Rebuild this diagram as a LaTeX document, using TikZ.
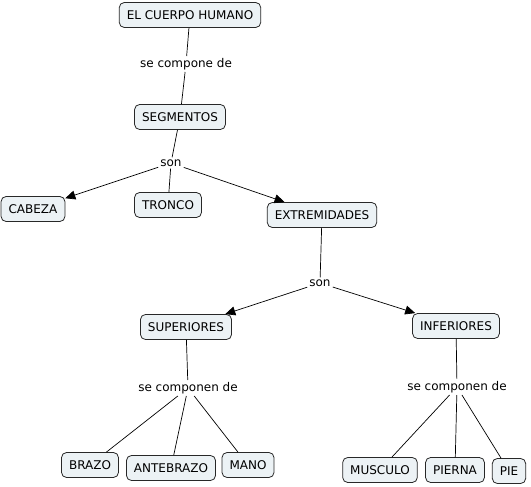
\documentclass[tikz,border=0pt]{standalone}
\usepackage{fontspec}
\setmainfont{DejaVu Sans}
\usetikzlibrary{arrows.meta}
\definecolor{cfill}{RGB}{236,242,245}
\definecolor{cline}{RGB}{40,40,40}
\tikzset{
  concept/.style={draw=cline, fill=cfill, rounded corners=5pt, line width=0.8pt,
    inner xsep=7.5pt, minimum height=25pt, font=\fontsize{12}{14}\selectfont},
  link/.style={inner sep=2pt, font=\fontsize{12}{14}\selectfont},
  conn/.style={draw=black, line width=0.7pt},
  arr/.style={conn, -{Triangle[length=10pt,width=9pt]}}
}
\begin{document}
\begin{tikzpicture}[x=1pt,y=-1pt]
\useasboundingbox (0,0) rectangle (531,487);
\node[concept] (cuerpo) at (190,15) {EL CUERPO HUMANO};
\node[link] (compone) at (186,64) {se compone de};
\node[concept] (segm) at (180,117) {SEGMENTOS};
\node[link] (son1) at (171,163) {son};
\node[concept] (cabeza) at (33,209) {CABEZA};
\node[concept] (tronco) at (168,205) {TRONCO};
\node[concept] (extr) at (322,215) {EXTREMIDADES};
\node[link] (son2) at (320,283) {son};
\node[concept] (sup) at (186,327) {SUPERIORES};
\node[concept] (inf) at (456,326) {INFERIORES};
\node[link] (comp1) at (188,388) {se componen de};
\node[link] (comp2) at (457,387) {se componen de};
\node[concept] (brazo) at (90,465) {BRAZO};
\node[concept] (ante) at (171,468) {ANTEBRAZO};
\node[concept] (mano) at (248,465) {MANO};
\node[concept] (musc) at (380,470) {MUSCULO};
\node[concept] (pierna) at (455,470) {PIERNA};
\node[concept] (pie) at (509,471) {PIE};

\draw[conn] (cuerpo) -- (compone);
\draw[conn] (compone) -- (segm);
\draw[conn] (segm) -- (son1);
\draw[arr] (son1) -- (cabeza);
\draw[conn] (son1) -- (tronco);
\draw[arr] (son1) -- (extr);
\draw[conn] (extr) -- (son2);
\draw[arr] (son2) -- (sup);
\draw[arr] (son2) -- (inf);
\draw[conn] (sup) -- (comp1);
\draw[conn] (comp1) -- (brazo);
\draw[conn] (comp1) -- (ante);
\draw[conn] (comp1) -- (mano);
\draw[conn] (inf) -- (comp2);
\draw[conn] (comp2) -- (musc);
\draw[conn] (comp2) -- (pierna);
\draw[conn] (comp2) -- (pie);
\end{tikzpicture}
\end{document}
